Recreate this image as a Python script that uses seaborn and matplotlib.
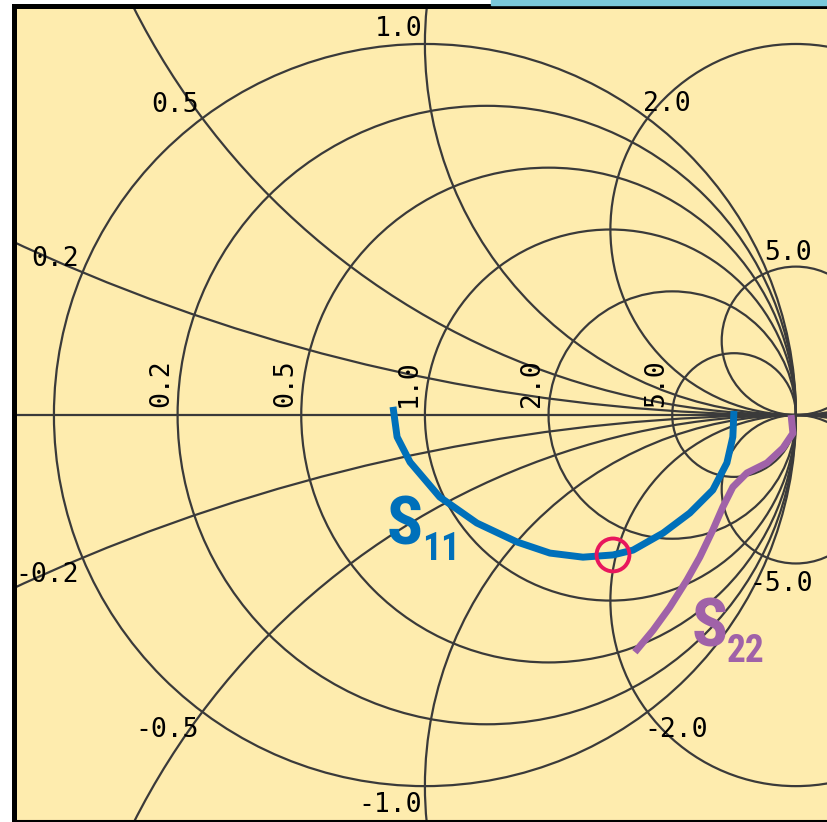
import numpy as np
import pandas as pd
import seaborn as sns
import matplotlib
matplotlib.use('Agg')
import matplotlib.pyplot as plt
from matplotlib import font_manager
from matplotlib.patches import Circle, Rectangle

s11_re = [-0.086, -0.075, -0.040, 0.040, 0.140, 0.248, 0.337, 0.426, 0.507,
          0.561, 0.642, 0.714, 0.776, 0.814, 0.830, 0.833]
s11_im = [0.022, -0.059, -0.127, -0.221, -0.291, -0.342, -0.372, -0.383, -0.377,
          -0.364, -0.318, -0.264, -0.202, -0.129, -0.059, 0.011]
s22_re = [0.987, 0.992, 0.965, 0.922, 0.868, 0.830, 0.803, 0.776, 0.741,
          0.706, 0.660, 0.615, 0.566]
s22_im = [0.000, -0.049, -0.089, -0.129, -0.156, -0.194, -0.248, -0.310, -0.383,
          -0.445, -0.518, -0.580, -0.639]
marker_re = [0.507]
marker_im = [-0.377]

# grid values
resistance_values = [0.0, 0.2, 0.5, 1.0, 2.0, 5.0]
reactance_values = [0.2, 0.5, 1.0, 2.0, 5.0]
resistance_labels = ['0.2', '0.5', '1.0', '2.0', '5.0']
reactance_labels = ['0.2', '0.5', '1.0', '2.0', '5.0']
neg_reactance_labels = ['-0.2', '-0.5', '-1.0', '-2.0', '-5.0']

bg = '#feecae'
grid_c = '#3a3a3a'
blue = '#0070ba'
purple = '#a062a8'
red = '#e8175d'
PT = 0.72  # points per pixel at dpi 100

# pick a narrow sans for the S11 / S22 labels if one is around
names = {f.name for f in font_manager.fontManager.ttflist}
stretch = 'normal'
lab_family = 'Roboto'
for cand in ['Liberation Sans Narrow', 'Roboto Condensed', 'Open Sans Condensed']:
    if cand in names:
        lab_family = cand
        break
else:
    if any(f.name == 'DejaVu Sans' and f.stretch == 'condensed' for f in font_manager.fontManager.ttflist):
        lab_family = 'DejaVu Sans'
        stretch = 'condensed'

fig = plt.figure(figsize=(8.27, 8.22), dpi=100)
fig.patch.set_facecolor('white')
fig.patches.append(Rectangle((491 / 827, 817 / 822), 1, 5 / 822, transform=fig.transFigure,
                             color='#7ac8da', zorder=0))
ax = fig.add_axes([13.5 / 827, 1 / 822, 823.2 / 827, 814.5 / 822])
ax.set_facecolor(bg)
ax.set_xlim(-1.109, 1.110)
ax.set_ylim(-1.094, 1.101)

# resistance circles
for r in resistance_values:
    ax.add_patch(Circle((r / (1 + r), 0), 1 / (1 + r), fill=False, ec=grid_c, lw=1.6, zorder=1))
# reactance circles
for x in reactance_values:
    for sgn in (1, -1):
        ax.add_patch(Circle((1, sgn / x), 1 / x, fill=False, ec=grid_c, lw=1.6, zorder=1))
ax.axhline(0, color=grid_c, lw=1.6, zorder=1)

mono = 'DejaVu Sans Mono'
fs = 19
cap = 0.73 * fs / PT

# resistance labels on the real axis
for r, lab in zip(resistance_values[1:], resistance_labels):
    left = (r - 1) / (r + 1)
    ax.annotate(lab, (left, 0), xytext=(-9.5 * PT, 8 * PT), textcoords='offset points',
                rotation=90, rotation_mode='anchor', ha='left', va='baseline',
                fontfamily=mono, fontsize=fs, zorder=5)

# reactance labels at the outer circle
pos_off = {0.2: (-4, 6, 'right'), 0.5: (-3, 6, 'right'), 1.0: (-2, 8, 'right'),
           2.0: (-5, 7, 'left'), 5.0: (-3, 12, 'left')}
neg_off = {0.2: (-4, -5, 'right'), 0.5: (-3, -6, 'right'), 1.0: (-3, -7, 'right'),
           2.0: (-3, -6, 'left'), 5.0: (-18, -14, 'left')}
for x, lab, nlab in zip(reactance_values, reactance_labels, neg_reactance_labels):
    g = (1j * x - 1) / (1j * x + 1)
    dx, dy, ha = pos_off[x]
    ax.annotate(lab, (g.real, g.imag), xytext=(dx * PT, dy * PT), textcoords='offset points',
                ha=ha, va='baseline', fontfamily=mono, fontsize=fs, zorder=5)
    dx, dy, ha = neg_off[x]
    ax.annotate(nlab, (g.real, -g.imag), xytext=(dx * PT, (dy - cap) * PT),
                textcoords='offset points', ha=ha, va='baseline',
                fontfamily=mono, fontsize=fs, zorder=5)

# traces
s11 = pd.DataFrame({'re': s11_re, 'im': s11_im})
s22 = pd.DataFrame({'re': s22_re, 'im': s22_im})
sns.lineplot(data=s11, x='re', y='im', sort=False, estimator=None, color=blue, lw=5,
             solid_joinstyle='round', solid_capstyle='butt', ax=ax, zorder=3)
sns.lineplot(data=s22, x='re', y='im', sort=False, estimator=None, color=purple, lw=5,
             solid_joinstyle='round', solid_capstyle='butt', ax=ax, zorder=3)
sns.scatterplot(x=marker_re, y=marker_im, s=560, marker='o', facecolor='none',
                edgecolor=red, linewidth=2.8, ax=ax, zorder=4)

big, small = 48, 27
ax.text(-0.102, -0.350, 'S', color=blue, fontsize=big, fontweight='bold', fontstretch=stretch,
        family=lab_family, ha='left', va='baseline', zorder=6)
ax.text(-0.008, -0.391, '11', color=blue, fontsize=small, fontweight='bold', fontstretch=stretch,
        family=lab_family, ha='left', va='baseline', zorder=6)
ax.text(0.720, -0.625, 'S', color=purple, fontsize=big, fontweight='bold', fontstretch=stretch,
        family=lab_family, ha='left', va='baseline', zorder=6)
ax.text(0.814, -0.666, '22', color=purple, fontsize=small, fontweight='bold', fontstretch=stretch,
        family=lab_family, ha='left', va='baseline', zorder=6)

ax.set_xticks([])
ax.set_yticks([])
ax.set_xlabel('')
ax.set_ylabel('')
for side in ['left', 'top', 'bottom', 'right']:
    ax.spines[side].set_color('black')
    ax.spines[side].set_zorder(10)
ax.spines['left'].set_linewidth(3.6)
ax.spines['top'].set_linewidth(3.6)
ax.spines['bottom'].set_linewidth(1.5)

fig.savefig('out.png', dpi=100, facecolor='white')
